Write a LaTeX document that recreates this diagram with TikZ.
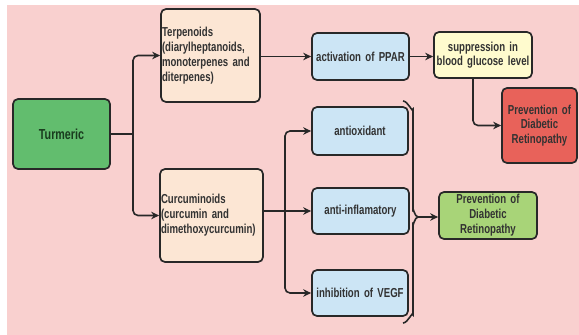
\documentclass[tikz,border=0pt]{standalone}
\usepackage{fontspec}
\setmainfont{Liberation Sans Bold}[FakeStretch=0.74]
\usetikzlibrary{arrows.meta}
\definecolor{bgpink}{RGB}{249,208,207}
\definecolor{turgreen}{RGB}{98,189,110}
\definecolor{peach}{RGB}{252,230,212}
\definecolor{lblue}{RGB}{204,229,245}
\definecolor{lyellow}{RGB}{255,251,206}
\definecolor{redbox}{RGB}{232,98,90}
\definecolor{lgreen}{RGB}{168,212,120}
\definecolor{edge}{RGB}{40,40,40}
\definecolor{txt}{RGB}{50,50,50}
\tikzset{
  box/.style={draw=edge, line width=1.7pt, rounded corners=5pt, font=\fontsize{13}{15}\selectfont, text=txt, inner xsep=1pt, inner ysep=0pt},
  cbox/.style={box, align=center},
  lbox/.style={box, align=left},
  conn/.style={draw=edge, line width=1.6pt, rounded corners=5pt},
  arr/.style={conn, -{Stealth[length=8pt,width=7.5pt]}}
}
\begin{document}
\begin{tikzpicture}[x=1pt,y=-1pt]
\useasboundingbox (0,0) rectangle (579,335);
\fill[white] (0,0) rectangle (579,335);
\fill[bgpink] (7,5) rectangle (579,335);

\node[cbox, fill=turgreen, text width=95pt, minimum height=70pt, font=\fontsize{14.5}{16}\selectfont, text={rgb,255:red,25;green,60;blue,30}] (tur) at (61.5,134) {Turmeric};
\node[lbox, fill=peach, text width=97pt, minimum height=93pt] (ter) at (210.5,55.5) {Terpenoids\\(diarylheptanoids,\\monoterpenes and\\diterpenes)};
\node[lbox, fill=peach, text width=101pt, minimum height=93pt] (cur) at (211.5,215.5) {Curcuminoids\\(curcumin and\\dimethoxycurcumin)};
\node[cbox, fill=lblue, text width=95pt, minimum height=47pt] (ppar) at (360.5,56.5) {activation of PPAR};
\node[cbox, fill=lyellow, text width=96pt, minimum height=46pt, font=\fontsize{13}{13.5}\selectfont] (sup) at (483,55) {suppression in\\blood glucose level};
\node[cbox, fill=redbox, text width=73pt, minimum height=75pt, font=\fontsize{13}{14.5}\selectfont] (red) at (539.5,125.5) {Prevention of\\Diabetic\\Retinopathy};
\node[cbox, fill=lblue, text width=94pt, minimum height=48pt] (aox) at (360,131) {antioxidant};
\node[cbox, fill=lblue, text width=95pt, minimum height=46pt] (ainf) at (360.5,211) {anti-inflamatory};
\node[cbox, fill=lblue, text width=94pt, minimum height=46pt] (vegf) at (360,293) {inhibition of VEGF};
\node[cbox, fill=lgreen, text width=96pt, minimum height=47pt, font=\fontsize{13}{15}\selectfont] (grn) at (488,215.5) {Prevention of\\Diabetic\\Retinopathy};

\coordinate (s1) at (133,134);
\coordinate (s2) at (285,211);
\coordinate (bt) at (403,101);
\coordinate (bb) at (403,323);
\coordinate (bm) at (418,217);

\draw[conn] (tur.east) -- (s1);
\draw[arr] (s1) |- (ter.west);
\draw[arr] (s1) |- (cur.west);
\draw[arr] (ter.east |- ppar.west) -- (ppar.west);
\draw[arr] (ppar.east) -- (sup.west |- ppar.east);
\draw[arr] ([xshift=-10pt]sup.south) |- (red.west);
\draw[conn] (cur.east |- s2) -- (s2);
\draw[arr] (s2) |- (aox.west);
\draw[arr] (s2) -- (ainf.west);
\draw[arr] (s2) |- (vegf.west);

\draw[draw=edge, line width=1.6pt] (bt) to[out=0,in=-90] (413,109) -- (413,210) to[out=90,in=180] (bm) to[out=180,in=-90] (413,224) -- (413,315) to[out=90,in=0] (bb);
\draw[arr] (bm) -- (grn.west |- bm);
\end{tikzpicture}
\end{document}
